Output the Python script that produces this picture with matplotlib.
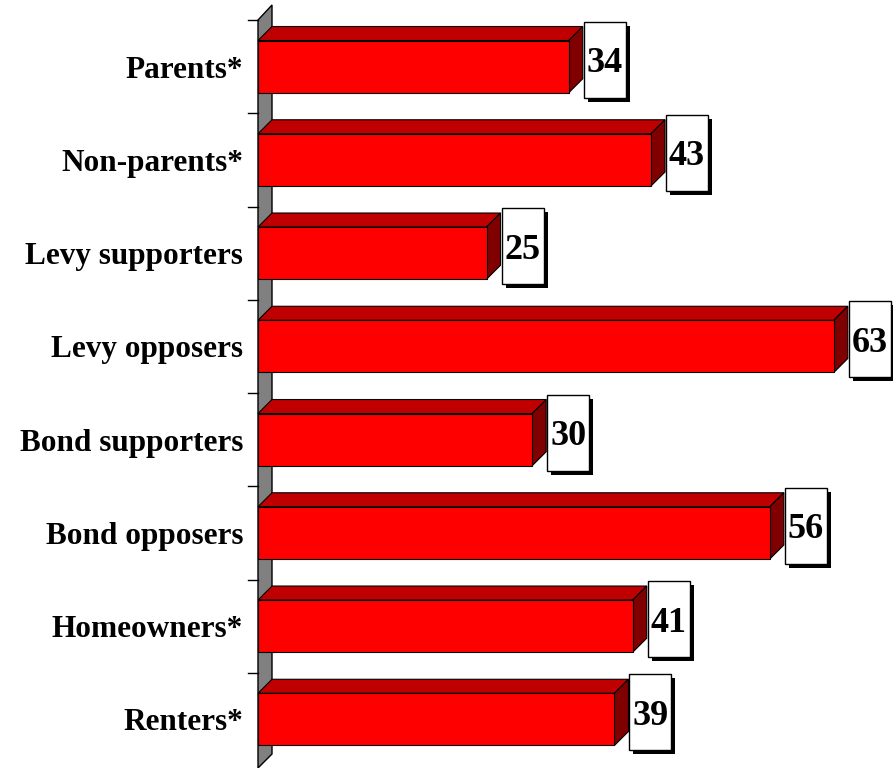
import matplotlib
matplotlib.use('Agg')
import matplotlib.pyplot as plt
from matplotlib.patches import Polygon, Rectangle

categories = ['Parents*', 'Non-parents*', 'Levy supporters', 'Levy opposers',
              'Bond supporters', 'Bond opposers', 'Homeowners*', 'Renters*']
values = [34, 43, 25, 63, 30, 56, 41, 39]

plt.rcParams['font.family'] = ['Liberation Serif', 'DejaVu Serif']

W, H = 893, 768
fig = plt.figure(figsize=(W / 100, H / 100), dpi=100)

# axes in pixel terms: value 0 at x=258, categories from y=20 to y=766
px_per_unit = 9.14
left_px, top_px, bottom_px = 258, 20, 766
ax = fig.add_axes([left_px / W, 1 - bottom_px / H, (W - left_px) / W, (bottom_px - top_px) / H])
n = len(categories)
ax.set_xlim(0, (W - left_px) / px_per_unit)
ax.set_ylim(n - 0.5, -0.5)
ax.axis('off')

cat_px = (bottom_px - top_px) / n
dx = 14 / px_per_unit      # depth offset in data units
dy = 14 / cat_px
half = 0.28

# gray back wall
wall = Polygon([(0, -0.5), (dx, -0.5 - 15 / cat_px), (dx, n - 0.5 - 12 / cat_px), (0, n - 0.5 + 2 / cat_px)],
               closed=True, facecolor='#808080', edgecolor='black', lw=1, clip_on=False)
ax.add_patch(wall)

# tick marks at category boundaries
for k in range(n):
    ax.plot([-10 / px_per_unit, 0], [k - 0.5, k - 0.5], color='black', lw=1, clip_on=False)

for i, (cat, v) in enumerate(zip(categories, values)):
    top = i - half
    bot = i + half
    ax.add_patch(Polygon([(0, top), (v, top), (v + dx, top - dy), (dx, top - dy)],
                         closed=True, facecolor='#C00000', edgecolor='black', lw=0.8, clip_on=False))
    ax.add_patch(Polygon([(v, top), (v + dx, top - dy), (v + dx, bot - dy), (v, bot)],
                         closed=True, facecolor='#800000', edgecolor='black', lw=0.8, clip_on=False))
    ax.add_patch(Rectangle((0, top), v, bot - top, facecolor='#FF0000',
                           edgecolor='black', lw=0.8, clip_on=False))

    # value label box with shadow
    bw = 42 / px_per_unit
    bh = 76 / cat_px
    bx = v + dx + 1 / px_per_unit
    by = i - dy / 2 - bh / 2
    sx, sy = 4 / px_per_unit, 4 / cat_px
    ax.add_patch(Rectangle((bx + sx, by + sy), bw, bh, facecolor='black', edgecolor='none', clip_on=False))
    ax.add_patch(Rectangle((bx, by), bw, bh, facecolor='white', edgecolor='black', lw=1, clip_on=False))
    ax.text(bx + bw / 2, by + bh / 2, str(v), ha='center', va='center_baseline',
            fontsize=26, fontweight='bold', color='black')

    ax.text(-15 / px_per_unit, i, cat, ha='right', va='center_baseline',
            fontsize=22.5, fontweight='bold', color='black')

fig.savefig('out.png', dpi=100)
